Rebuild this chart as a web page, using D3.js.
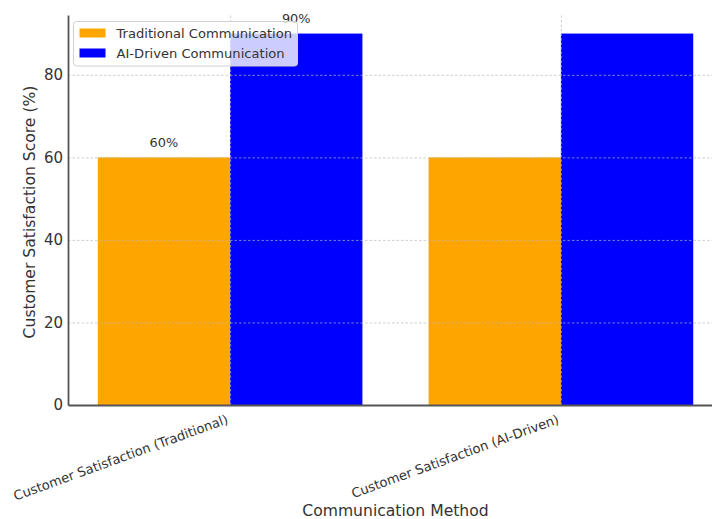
<!DOCTYPE html>
<html>
<head>
<meta charset="utf-8">
<script src="https://cdn.jsdelivr.net/npm/d3@7"></script>
<style>
  html, body { margin: 0; padding: 0; background: #fff; }
  svg { display: block; font-family: "DejaVu Sans", sans-serif; }
</style>
</head>
<body>
<svg id="chart" width="712" height="519"></svg>
<script>
// Customer satisfaction by communication method
const categories = ["Customer Satisfaction (Traditional)", "Customer Satisfaction (AI-Driven)"];
const seriesNames = ["Traditional Communication", "AI-Driven Communication"];
const seriesColors = ["#FFA500", "#0000FF"];
const traditionalScores = [60, 60];
const aiDrivenScores = [90, 90];
const yTicks = [0, 20, 40, 60, 80];
// value labels are shown for the first group only
const labelledGroups = [0];

const series = [traditionalScores, aiDrivenScores];
const barWidth = 0.4;
const offsets = [-barWidth / 2, barWidth / 2];

const svg = d3.select("#chart");
const plot = { left: 68, right: 723, top: 15, bottom: 405 };

const x = d3.scaleLinear()
  .domain([-0.49, categories.length - 1 + 0.49])
  .range([plot.left, plot.right]);
const y = d3.scaleLinear()
  .domain([0, 94.5])
  .range([plot.bottom, plot.top]);

// bars
series.forEach((vals, s) => {
  svg.append("g").selectAll("rect")
    .data(vals)
    .join("rect")
    .attr("x", (d, i) => x(i + offsets[s] - barWidth / 2))
    .attr("width", x(barWidth) - x(0))
    .attr("y", d => y(d))
    .attr("height", d => y(0) - y(d))
    .attr("fill", seriesColors[s]);
});

// dotted grid, drawn over the bars
const gridY = svg.append("g")
  .attr("transform", `translate(${plot.left},0)`)
  .call(d3.axisLeft(y).tickValues(yTicks).tickSize(-(plot.right - plot.left)).tickFormat(""));
const gridX = svg.append("g")
  .attr("transform", `translate(0,${plot.bottom})`)
  .call(d3.axisBottom(x).tickValues(d3.range(categories.length)).tickSize(-(plot.bottom - plot.top)).tickFormat(""));
[gridY, gridX].forEach(g => {
  g.select(".domain").remove();
  g.selectAll("line")
    .attr("stroke", "#b8b8b8")
    .attr("stroke-opacity", 0.75)
    .attr("stroke-width", 0.9)
    .attr("stroke-dasharray", "2.5,2");
});

// value labels
series.forEach((vals, s) => {
  svg.append("g").selectAll("text")
    .data(labelledGroups)
    .join("text")
    .attr("x", i => x(i + offsets[s]))
    .attr("y", i => y(vals[i]) - 10.5)
    .attr("text-anchor", "middle")
    .attr("font-size", "12.9px")
    .attr("fill", "#333")
    .text(i => vals[i] + "%");
});

// y axis
const yAxis = svg.append("g")
  .attr("transform", `translate(${plot.left},0)`)
  .call(d3.axisLeft(y).tickValues(yTicks).tickSize(0).tickPadding(5));
yAxis.select(".domain").attr("stroke", "#555").attr("stroke-width", 1.8);
yAxis.selectAll("text").attr("font-size", "15px").attr("fill", "#333").attr("font-family", "DejaVu Sans");

// x axis
const xAxis = svg.append("g")
  .attr("transform", `translate(0,${plot.bottom})`)
  .call(d3.axisBottom(x).tickValues(d3.range(categories.length)).tickSize(0).tickFormat(i => categories[i]));
xAxis.select(".domain").attr("stroke", "#555").attr("stroke-width", 1.8);
xAxis.selectAll("text")
  .attr("font-size", "13.1px")
  .attr("fill", "#333")
  .attr("font-family", "DejaVu Sans")
  .attr("text-anchor", "end")
  .attr("dy", null)
  .attr("y", 0)
  .attr("transform", "translate(-1.5,18) rotate(-20)");

// axis titles
svg.append("text")
  .attr("transform", `translate(34.5,${(plot.top + plot.bottom) / 2 + 2}) rotate(-90)`)
  .attr("text-anchor", "middle")
  .attr("font-size", "15.6px")
  .attr("fill", "#333")
  .text("Customer Satisfaction Score (%)");
svg.append("text")
  .attr("x", (plot.left + plot.right) / 2)
  .attr("y", 516)
  .attr("text-anchor", "middle")
  .attr("font-size", "15.6px")
  .attr("fill", "#333")
  .text("Communication Method");

// legend
const legend = svg.append("g").attr("transform", "translate(73.5,21.5)");
legend.append("rect")
  .attr("width", 224)
  .attr("height", 44.5)
  .attr("rx", 3)
  .attr("fill", "#fff")
  .attr("fill-opacity", 0.8)
  .attr("stroke", "#d0d0d0")
  .attr("stroke-width", 1);
seriesNames.forEach((name, s) => {
  const row = legend.append("g").attr("transform", `translate(0,${s * 20})`);
  row.append("rect")
    .attr("x", 6).attr("y", 7)
    .attr("width", 26).attr("height", 9)
    .attr("fill", seriesColors[s]);
  row.append("text")
    .attr("x", 43).attr("y", 16)
    .attr("font-size", "13.1px")
    .attr("fill", "#333")
    .text(name);
});
</script>
</body>
</html>
